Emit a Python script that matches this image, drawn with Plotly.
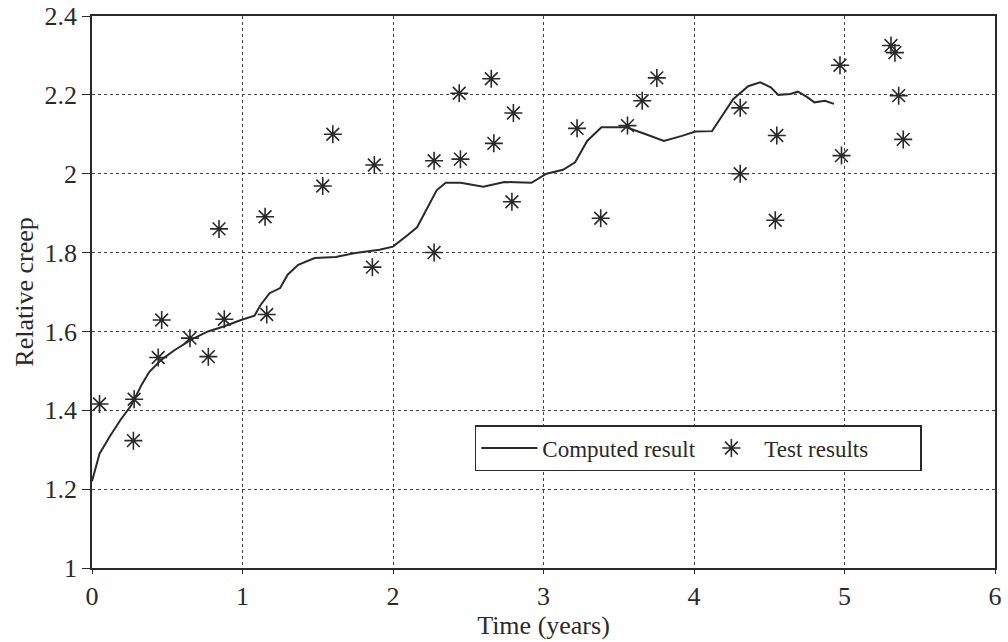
import plotly.graph_objects as go

# Computed result (line)
comp_x = [0.0, 0.01, 0.05, 0.12, 0.19, 0.26, 0.33, 0.38, 0.46, 0.55, 0.66, 0.77, 0.88, 0.99,
          1.08, 1.12, 1.18, 1.25, 1.30, 1.37, 1.48, 1.62, 1.75, 1.91, 2.0, 2.1, 2.16, 2.29,
          2.35, 2.45, 2.6, 2.74, 2.92, 3.02, 3.13, 3.21, 3.29, 3.385, 3.55, 3.68, 3.80, 3.92,
          4.01, 4.12, 4.18, 4.26, 4.36, 4.44, 4.51, 4.56, 4.64, 4.69, 4.75, 4.80, 4.87, 4.93]
comp_y = [1.22, 1.235, 1.29, 1.335, 1.376, 1.412, 1.465, 1.497, 1.528, 1.553, 1.579, 1.60,
          1.613, 1.629, 1.640, 1.667, 1.697, 1.71, 1.744, 1.769, 1.786, 1.789, 1.799, 1.807,
          1.815, 1.845, 1.864, 1.958, 1.977, 1.977, 1.967, 1.979, 1.977, 2.0, 2.01, 2.029,
          2.083, 2.118, 2.118, 2.10, 2.083, 2.096, 2.107, 2.108, 2.143, 2.189, 2.222, 2.232,
          2.219, 2.20, 2.202, 2.208, 2.195, 2.181, 2.185, 2.177]

# Test results (asterisks)
test_x = [0.05, 0.28, 0.275, 0.44, 0.463, 0.651, 0.773, 0.879, 0.844, 1.161, 1.150, 1.533,
          1.60, 1.876, 1.863, 2.273, 2.448, 2.44, 2.653, 2.80, 2.67, 2.79, 2.273, 3.223,
          3.38, 3.558, 3.656, 3.753, 4.307, 4.55, 4.307, 4.54, 4.97, 4.98, 5.309, 5.335,
          5.36, 5.39]
test_y = [1.416, 1.428, 1.323, 1.534, 1.629, 1.583, 1.536, 1.631, 1.860, 1.643, 1.891,
          1.969, 2.10, 2.022, 1.763, 2.033, 2.037, 2.204, 2.241, 2.154, 2.077, 1.929, 1.80,
          2.115, 1.887, 2.122, 2.185, 2.243, 2.167, 2.097, 2.0, 1.882, 2.275, 2.046, 2.325,
          2.307, 2.198, 2.087]

x_ticks = [0, 1, 2, 3, 4, 5, 6]
y_ticks = [1, 1.2, 1.4, 1.6, 1.8, 2, 2.2, 2.4]
y_tick_text = ["1", "1.2", "1.4", "1.6", "1.8", "2", "2.2", "2.4"]

ink = "#2a2a2a"
serif = "Liberation Serif, Times New Roman, serif"

fig = go.Figure()
fig.add_trace(go.Scatter(x=comp_x, y=comp_y, mode="lines", name="Computed result",
                         line=dict(color=ink, width=2)))
fig.add_trace(go.Scatter(x=test_x, y=test_y, mode="markers", name="Test results",
                         marker=dict(symbol="asterisk-open", size=15,
                                     line=dict(color=ink, width=1.6), color=ink)))

axis_common = dict(showline=True, linecolor=ink, linewidth=1.5, mirror=True,
                   ticks="outside", tickcolor=ink, tickwidth=1.2,
                   showgrid=True, gridcolor="#444", griddash="dot", gridwidth=1,
                   zeroline=False, automargin=False,
                   tickfont=dict(family=serif, size=26, color=ink))

fig.update_xaxes(range=[0, 6], tickvals=x_ticks, ticktext=[str(v) for v in x_ticks],
                 ticklen=4,
                 title=dict(text="Time (years)", font=dict(family=serif, size=26, color=ink),
                            standoff=4), **axis_common)
fig.update_yaxes(range=[1, 2.4], tickvals=y_ticks, ticktext=y_tick_text,
                 ticklen=8,
                 title=dict(text="Relative creep", font=dict(family=serif, size=26, color=ink),
                            standoff=3), **axis_common)

fig.update_layout(
    width=1008, height=642,
    margin=dict(l=92, r=13, t=16, b=74, autoexpand=False),
    paper_bgcolor="white", plot_bgcolor="white",
    font=dict(family=serif, color=ink),
    legend=dict(orientation="h", x=0.424, y=0.259, xanchor="left", yanchor="top",
                bordercolor=ink, borderwidth=1.5, bgcolor="white",
                font=dict(family=serif, size=23, color=ink),
                itemwidth=56, entrywidth=151, entrywidthmode="pixels"),
)

fig.write_html("out.html", config={"displayModeBar": False},
               post_script="document.body.style.margin='0';document.body.style.overflow='hidden';")
